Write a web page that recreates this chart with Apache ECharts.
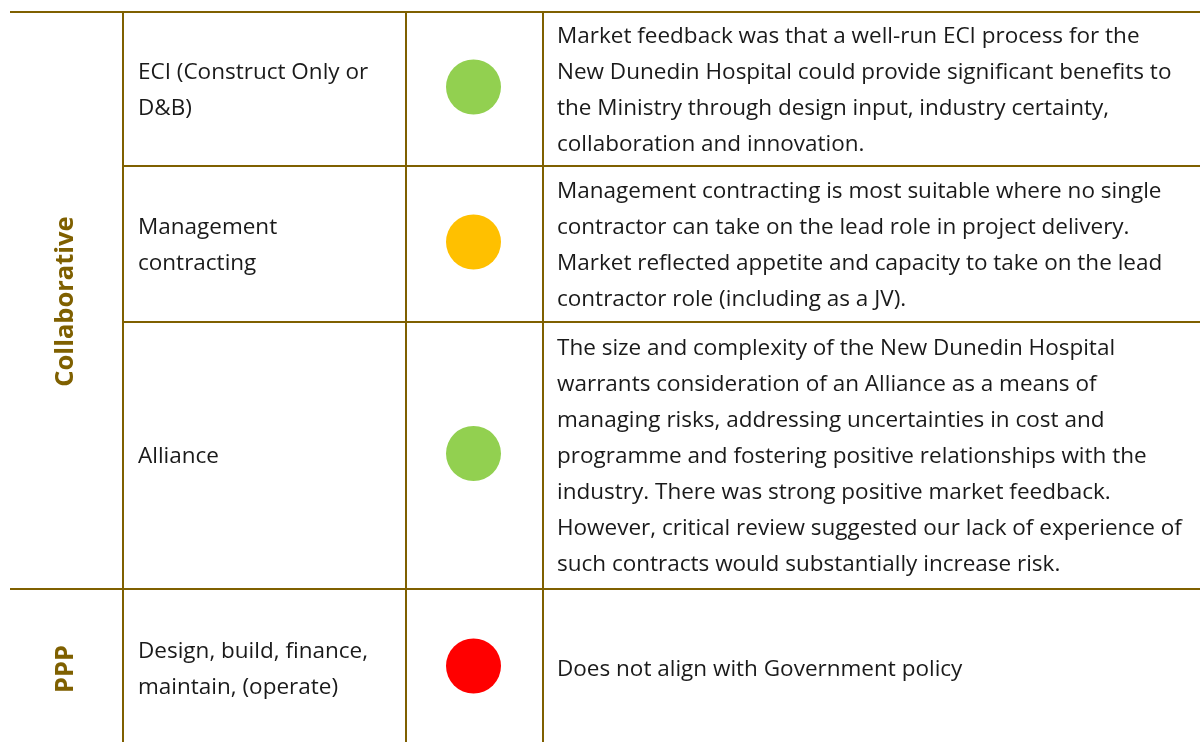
<!DOCTYPE html>
<html>
<head>
<meta charset="utf-8">
<script src="https://cdn.jsdelivr.net/npm/echarts@6/dist/echarts.min.js"></script>
<style>
html,body{margin:0;padding:0;background:#fff;}
#main{width:1200px;height:742px;}
</style>
</head>
<body>
<div id="main"></div>
<script>
// ---- data ----
var groups = ['Collaborative', 'PPP'];
var groupOfRow = [0, 0, 0, 1];
var methods = [
  'ECI (Construct Only or\nD&B)',
  'Management\ncontracting',
  'Alliance',
  'Design, build, finance,\nmaintain, (operate)'
];
var ratings = ['green', 'amber', 'green', 'red'];
var descriptions = [
  'Market feedback was that a well-run ECI process for the\nNew Dunedin Hospital could provide significant benefits to\nthe Ministry through design input, industry certainty,\ncollaboration and innovation.',
  'Management contracting is most suitable where no single\ncontractor can take on the lead role in project delivery.\nMarket reflected appetite and capacity to take on the lead\ncontractor role (including as a JV).',
  'The size and complexity of the New Dunedin Hospital\nwarrants consideration of an Alliance as a means of\nmanaging risks, addressing uncertainties in cost and\nprogramme and fostering positive relationships with the\nindustry. There was strong positive market feedback.\nHowever, critical review suggested our lack of experience of\nsuch contracts would substantially increase risk.',
  'Does not align with Government policy'
];

// ---- layout / style ----
var W = 1200, H = 742;
var rowBounds = [12, 166, 322, 589, 747];
var colX = [10, 123, 406, 543, 1200];
var lineColor = '#7F6000';
var ratingColors = {green: '#92D050', amber: '#FFC000', red: '#FF0000'};
var fontFamily = 'Open Sans';
var fontSize = 22.5;
var lineH = 36;
var textColor = '#1a1a1a';

var chart = echarts.init(document.getElementById('main'));

var graphics = [];
function hline(y, x1, x2) {
  graphics.push({type: 'line', silent: true, shape: {x1: x1, y1: y, x2: x2, y2: y}, style: {stroke: lineColor, lineWidth: 2}, z: 10});
}
function vline(x, y1, y2) {
  graphics.push({type: 'line', silent: true, shape: {x1: x, y1: y1, x2: x, y2: y2}, style: {stroke: lineColor, lineWidth: 2}, z: 10});
}
for (var r = 0; r < methods.length; r++) {
  var startsGroup = (r === 0) || groupOfRow[r] !== groupOfRow[r - 1];
  hline(rowBounds[r], startsGroup ? colX[0] : colX[1], colX[4]);
}
vline(colX[1], rowBounds[0], H);
vline(colX[2], rowBounds[0], H);
vline(colX[3], rowBounds[0], H);

groups.forEach(function (g, gi) {
  var rowsIn = [];
  groupOfRow.forEach(function (v, i) { if (v === gi) rowsIn.push(i); });
  var y1 = rowBounds[rowsIn[0]], y2 = rowBounds[rowsIn[rowsIn.length - 1] + 1];
  graphics.push({
    type: 'text', silent: true, x: 66, y: (y1 + y2) / 2 + 1, rotation: Math.PI / 2,
    style: {text: g, fill: lineColor, fontSize: 25.5, fontWeight: 'bold', fontFamily: fontFamily, align: 'center', verticalAlign: 'middle'}
  });
});

methods.forEach(function (m, i) {
  var cy = (rowBounds[i] + rowBounds[i + 1]) / 2 + 1.5;
  graphics.push({
    type: 'text', silent: true, x: 138, y: cy,
    style: {text: m, fill: textColor, fontSize: fontSize, fontFamily: fontFamily, lineHeight: lineH, align: 'left', verticalAlign: 'middle'}
  });
  graphics.push({
    type: 'text', silent: true, x: 557, y: cy,
    style: {text: descriptions[i], fill: textColor, fontSize: fontSize, fontFamily: fontFamily, lineHeight: lineH, align: 'left', verticalAlign: 'middle'}
  });
});

var scatterData = ratings.map(function (rt, i) {
  return {
    value: [(colX[2] + colX[3]) / 2 - 1, (rowBounds[i] + rowBounds[i + 1]) / 2 - 2],
    itemStyle: {color: ratingColors[rt], opacity: 1}
  };
});

chart.setOption({
  animation: false,
  grid: {left: 0, right: 0, top: 0, bottom: 0},
  xAxis: {type: 'value', min: 0, max: W, show: false},
  yAxis: {type: 'value', min: 0, max: H, inverse: true, show: false},
  series: [{
    type: 'scatter',
    symbol: 'circle',
    symbolSize: 55,
    itemStyle: {opacity: 1},
    data: scatterData
  }],
  graphic: {elements: graphics}
});
</script>
</body>
</html>
